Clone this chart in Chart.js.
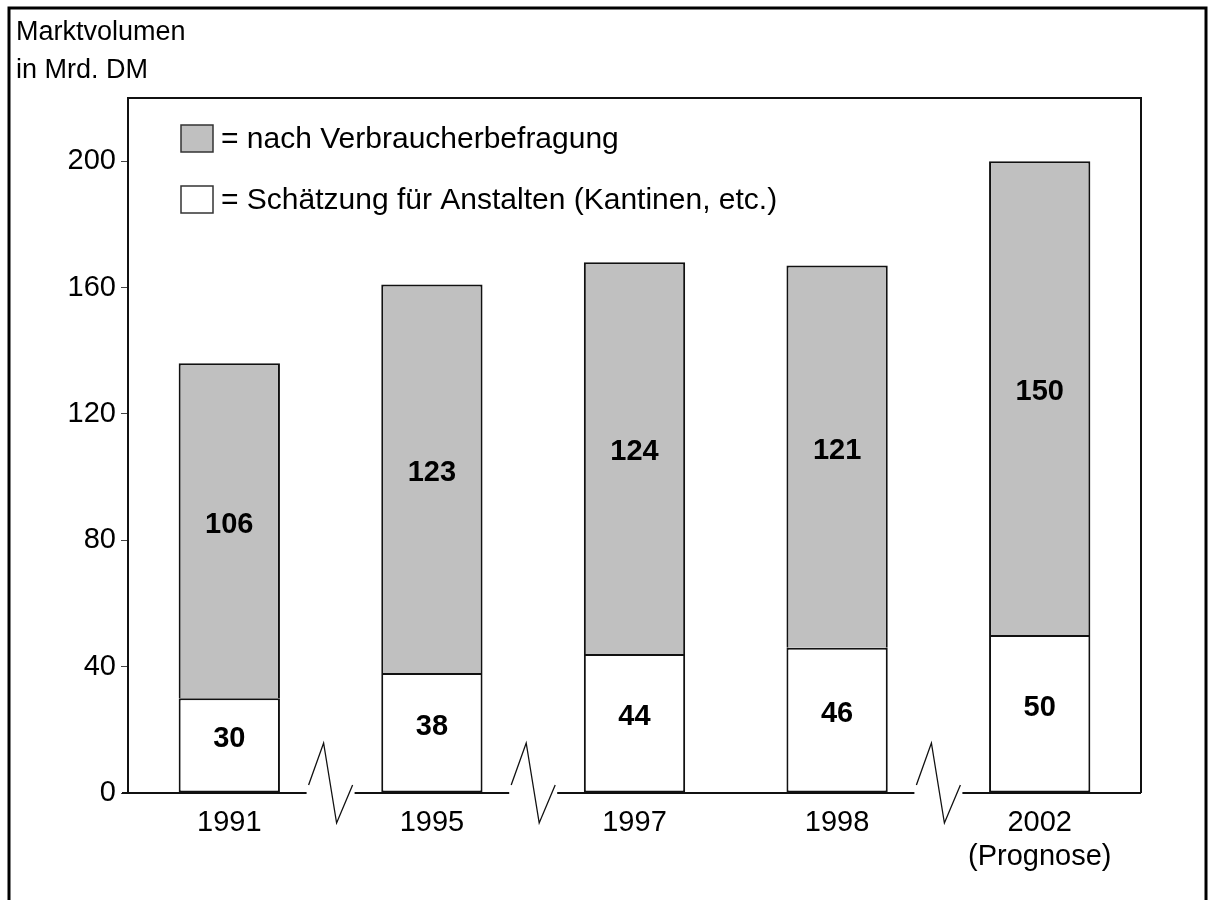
<!DOCTYPE html>
<html lang="de">
<head>
<meta charset="utf-8">
<title>Marktvolumen</title>
<script src="https://cdn.jsdelivr.net/npm/chart.js@4.4.1/dist/chart.umd.min.js"></script>
<style>
  html, body { margin: 0; padding: 0; background: #fff; }
  #chart { display: block; }
</style>
</head>
<body>
<canvas id="chart" width="1212" height="900"></canvas>
<script>
// Daten
const jahre = ['1991', '1995', '1997', '1998', ['2002', '(Prognose)']];
const anstalten = [30, 38, 44, 46, 50];         // weiss, unten
const verbraucher = [106, 123, 124, 121, 150];  // grau, oben
const yTicks = [0, 40, 80, 120, 160, 200];
const achsenTitel = ['Marktvolumen', 'in Mrd. DM'];
const legendeVerbraucher = '= nach Verbraucherbefragung';
const legendeAnstalten = '= Schätzung für Anstalten (Kantinen, etc.)';
const bruchNach = [0, 1, 3]; // Achsenbruch zwischen Kategorie i und i+1

const schrift = "'Liberation Sans', Arial, sans-serif";

// Rahmen, Legende, Achsenbruch und Beschriftungen
const zeichnen = {
  id: 'zeichnen',
  beforeDraw(chart) {
    const ctx = chart.ctx;
    ctx.save();
    ctx.fillStyle = '#fff';
    ctx.fillRect(0, 0, chart.width, chart.height);
    ctx.strokeStyle = '#000';
    ctx.lineWidth = 3;
    ctx.strokeRect(9, 8, 1197, 900);
    // Titel der y-Achse
    ctx.fillStyle = '#000';
    ctx.font = '27px ' + schrift;
    ctx.textBaseline = 'alphabetic';
    ctx.fillText(achsenTitel[0], 16, 40);
    ctx.fillText(achsenTitel[1], 16, 78);
    ctx.restore();
  },
  afterDraw(chart) {
    const ctx = chart.ctx;
    const a = chart.chartArea;
    const x = chart.scales.x;
    ctx.save();
    ctx.strokeStyle = '#111';
    ctx.lineWidth = 2;
    // obere und rechte Kante
    ctx.beginPath();
    ctx.moveTo(a.left, a.top);
    ctx.lineTo(a.right, a.top);
    ctx.lineTo(a.right, a.bottom);
    ctx.stroke();
    // x-Achse mit Bruchstellen
    const y = a.bottom;
    let start = a.left - 6;
    bruchNach.forEach(i => {
      const cx = (x.getPixelForValue(i) + x.getPixelForValue(i + 1)) / 2;
      ctx.lineWidth = 2;
      ctx.beginPath();
      ctx.moveTo(start, y);
      ctx.lineTo(cx - 24, y);
      ctx.stroke();
      ctx.lineWidth = 1.3;
      ctx.beginPath();
      ctx.moveTo(cx - 22, y - 8);
      ctx.lineTo(cx - 7, y - 50);
      ctx.lineTo(cx + 6, y + 30);
      ctx.lineTo(cx + 22, y - 8);
      ctx.stroke();
      start = cx + 24;
    });
    ctx.lineWidth = 2;
    ctx.beginPath();
    ctx.moveTo(start, y);
    ctx.lineTo(a.right, y);
    ctx.stroke();

    // Werte in den Balken
    ctx.fillStyle = '#000';
    ctx.font = 'bold 29px ' + schrift;
    ctx.textAlign = 'center';
    ctx.textBaseline = 'middle';
    chart.data.datasets.forEach((ds, di) => {
      chart.getDatasetMeta(di).data.forEach((bar, i) => {
        const mitte = (bar.y + bar.base) / 2;
        ctx.fillText(String(ds.data[i]), bar.x, mitte - 6);
      });
    });

    // Legende im Diagramm
    ctx.font = '30px ' + schrift;
    ctx.textAlign = 'left';
    const reihen = chart.data.datasets.slice().reverse();
    reihen.forEach((ds, k) => {
      const by = a.top + 27 + k * 61;
      ctx.fillStyle = ds.backgroundColor;
      ctx.fillRect(a.left + 53, by, 32, 27);
      ctx.strokeStyle = '#333';
      ctx.lineWidth = 1.5;
      ctx.strokeRect(a.left + 53, by, 32, 27);
      ctx.fillStyle = '#000';
      ctx.fillText(ds.label, a.left + 93, by + 15);
    });
    ctx.restore();
  }
};

const ctx = document.getElementById('chart').getContext('2d');
const chart = new Chart(ctx, {
  type: 'bar',
  data: {
    labels: jahre,
    datasets: [
      {
        label: legendeAnstalten,
        data: anstalten,
        backgroundColor: '#ffffff',
        borderColor: '#111',
        borderWidth: 2,
        borderSkipped: false
      },
      {
        label: legendeVerbraucher,
        data: verbraucher,
        backgroundColor: '#c0c0c0',
        borderColor: '#111',
        borderWidth: 2,
        borderSkipped: 'bottom'
      }
    ]
  },
  options: {
    responsive: false,
    animation: false,
    devicePixelRatio: 1,
    barPercentage: 0.5,
    categoryPercentage: 1,
    layout: {
      padding: { top: 98, right: 71, bottom: 0, left: 0 }
    },
    plugins: {
      legend: { display: false },
      tooltip: { enabled: false }
    },
    scales: {
      x: {
        stacked: true,
        grid: { display: false, drawTicks: false },
        border: { display: false },
        ticks: {
          color: '#000',
          padding: 13,
          font: { family: schrift, size: 29, lineHeight: 1.18 }
        },
        afterFit(scale) { scale.height = 107; }
      },
      y: {
        stacked: true,
        min: 0,
        max: 220,
        afterBuildTicks(scale) {
          scale.ticks = yTicks.map(v => ({ value: v }));
        },
        grid: {
          drawOnChartArea: false,
          tickLength: 7,
          color: '#444',
          lineWidth: 1
        },
        border: { color: '#111', width: 2 },
        ticks: {
          color: '#000',
          padding: 5,
          font: { family: schrift, size: 29 }
        },
        afterFit(scale) { scale.width = 128; }
      }
    }
  },
  plugins: [zeichnen]
});
</script>
</body>
</html>
